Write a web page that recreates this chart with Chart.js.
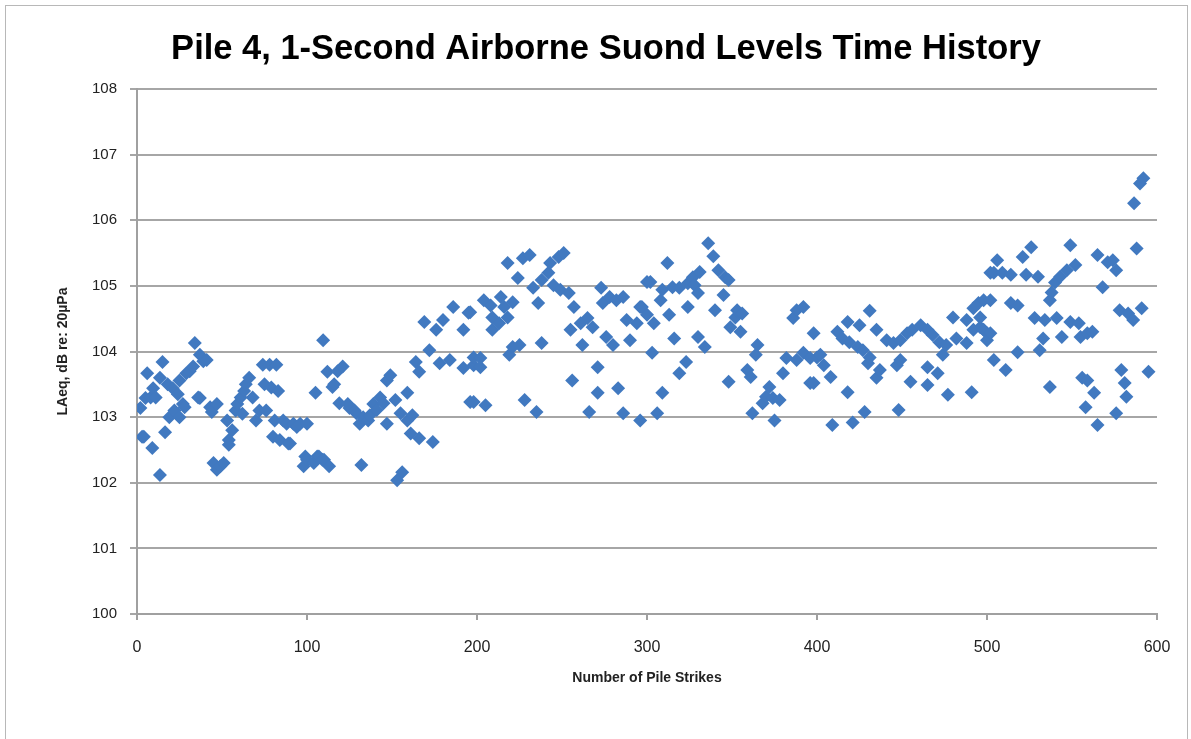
<!DOCTYPE html>
<html>
<head>
<meta charset="utf-8">
<script src="https://cdn.jsdelivr.net/npm/chart.js@4/dist/chart.umd.min.js"></script>
<style>
  html, body { margin: 0; padding: 0; background: #fff; }
  #wrap { position: relative; width: 1191px; height: 739px; }
  #frame { position: absolute; left: 5px; top: 5px; width: 1183px; height: 740px; border: 1px solid #b8b8b8; box-sizing: border-box; }
  #wrap canvas { position: absolute; left: 0; top: 0; }
</style>
</head>
<body>
<div id="wrap">
  <div id="frame"></div>
  <canvas id="pileChart" width="1191" height="739"></canvas>
</div>
<script>
// נתונים - מספר הקשה והרמה שנמדדה (dB)
const strikeNumbers = [
  2, 3, 4, 5, 6, 8, 9, 9.5, 11, 13.5, 13.5, 15, 16.5, 18, 19, 21, 22, 24, 25, 25, 27, 28, 29, 31, 33, 34, 36, 37, 37, 39, 41, 43, 44, 45, 47, 47, 49, 51, 53,
  54, 54, 56, 58, 59, 61, 62, 63, 64, 66, 68, 70, 72, 74, 75, 76, 78, 79, 80, 81, 82, 83, 84, 86, 88, 89, 90, 92, 94, 96, 98, 99, 100, 100,
  104, 105, 106, 107, 109, 109.5, 110, 112, 113, 115, 116, 118, 119, 121, 124, 125, 128, 129, 131, 132, 133, 136, 137, 139, 141, 143, 145, 147, 147, 149, 152, 153, 155, 156, 159, 159, 161, 162, 164, 166, 166, 169, 172, 174, 176, 178, 180, 184, 186, 192, 192, 195, 196, 196, 198,
  198, 198, 202, 202, 204, 205, 208, 209, 209, 213, 214, 216, 218, 218, 219, 221, 221, 224, 225, 227, 228, 231, 233, 235, 236, 238, 238, 242, 243, 245, 248, 249, 251, 254, 255, 256, 257, 261, 262, 265, 266, 268, 271, 271, 273, 274, 276, 278, 280, 282, 283, 286, 286, 288, 290, 294, 296, 296,
  297, 300, 300, 302, 303, 304, 306, 308, 309, 309, 312, 313, 315, 316, 319, 319, 323, 324, 324, 327, 328, 330, 330, 331, 334, 336, 339, 340, 342, 345, 346, 348, 348, 349, 352, 353, 355, 356, 359, 361, 362, 364, 365, 368, 370, 372, 374, 375, 378, 380, 382, 386, 388, 388, 392, 392, 396, 396, 398, 398,
  400, 402, 404, 408, 409, 412, 415, 418, 418, 419, 421, 424, 425, 427, 428, 430, 431, 431, 435, 435, 437, 441, 445, 447, 448, 449, 449, 453, 455, 456, 461, 465, 465, 465, 468, 471, 472, 474, 476, 477, 480, 482, 488, 488, 491, 492, 492, 495, 496, 496, 498, 498, 500, 500,
  502, 502, 502, 504, 504, 506, 509, 511, 514, 514, 518, 518, 521, 523, 526, 528, 530, 531, 533, 534, 537, 537, 538, 540, 541, 543, 544, 547, 549, 549, 552, 554, 555, 556, 558, 559, 559, 562, 563, 565, 565, 568, 571, 574, 576, 576, 578, 579, 581, 582, 583, 586, 586.5, 588, 590, 591, 592, 595
];
const levelsDb = [
  103.14, 102.7, 102.7, 103.29, 103.67, 103.3, 102.53, 103.44, 103.3, 103.6, 102.12, 103.84, 102.77, 103.5, 103.0, 103.44, 103.1, 103.35, 103.56, 103.0, 103.2, 103.15, 103.67, 103.7, 103.77, 104.13, 103.3, 103.29, 103.95, 103.85, 103.87, 103.15, 103.08, 102.3, 103.2, 102.2, 102.25, 102.3, 102.95,
  102.65, 102.58, 102.8, 103.1, 103.2, 103.3, 103.05, 103.4, 103.5, 103.6, 103.3, 102.95, 103.1, 103.8, 103.5, 103.1, 103.8, 103.45, 102.7, 102.95, 103.8, 103.4, 102.65, 102.95, 102.9, 102.6, 102.6, 102.9, 102.85, 102.9, 102.25, 102.4, 102.9, 102.35,
  102.3, 103.37, 102.4, 102.4, 102.35, 104.17, 102.35, 103.69, 102.25, 103.46, 103.5, 103.7, 103.21, 103.77, 103.2, 103.14, 103.1, 103.06, 102.9, 102.27, 103.0, 102.95, 103.03, 103.2, 103.11, 103.3, 103.21, 103.56, 102.9, 103.64, 103.26, 102.04, 103.06, 102.16, 103.37, 102.95, 102.75, 103.03, 103.84, 103.69, 102.68, 104.45, 104.02, 102.62, 104.33, 103.82, 104.48, 103.87, 104.68, 104.33, 103.75, 104.59, 103.23, 104.6, 103.79,
  103.91, 103.23, 103.9, 103.76, 104.78, 103.18, 104.7, 104.52, 104.33, 104.43, 104.83, 104.68, 105.35, 104.52, 103.95, 104.75, 104.07, 105.12, 104.1, 105.42, 103.26, 105.47, 104.97, 103.08, 104.74, 105.09, 104.13, 105.2, 105.35, 105.01, 105.44, 104.94, 105.5, 104.89, 104.33, 103.56, 104.68, 104.43, 104.1, 104.51, 103.08, 104.37, 103.76, 103.37, 104.97, 104.74, 104.22, 104.83, 104.1, 104.78, 103.44, 104.83, 103.06, 104.48, 104.17, 104.43, 104.68, 102.95,
  104.68, 105.06, 104.56, 105.06, 103.98, 104.43, 103.06, 104.78, 104.94, 103.37, 105.35, 104.56, 104.98, 104.2, 104.97, 103.67, 103.84, 105.04, 104.68, 105.13, 105.01, 104.89, 104.22, 105.21, 104.07, 105.65, 105.45, 104.63, 105.24, 104.86, 105.13, 105.09, 103.54, 104.37, 104.52, 104.63, 104.3, 104.58, 103.72, 103.61, 103.06, 103.95, 104.1, 103.21, 103.31, 103.46, 103.29, 102.95, 103.26, 103.67, 103.9, 104.51, 104.63, 103.87, 104.68, 103.98, 103.9, 103.52, 104.28, 103.52,
  103.91, 103.95, 103.79, 103.61, 102.88, 104.3, 104.2, 104.45, 103.38, 104.14, 102.92, 104.07, 104.4, 104.02, 103.08, 103.82, 104.62, 103.91, 104.33, 103.6, 103.72, 104.17, 104.13, 103.79, 103.11, 104.17, 103.87, 104.28, 103.54, 104.33, 104.4, 104.33, 103.49, 103.76, 104.25, 103.67, 104.14, 103.95, 104.1, 103.34, 104.52, 104.2, 104.48, 104.13, 103.38, 104.66, 104.33, 104.74, 104.37, 104.52, 104.78, 104.33, 104.28, 104.17,
  105.2, 104.78, 104.28, 105.2, 103.87, 105.39, 105.2, 103.72, 105.17, 104.74, 104.7, 103.99, 105.44, 105.17, 105.59, 104.51, 105.14, 104.02, 104.2, 104.48, 104.78, 103.46, 104.9, 105.05, 104.51, 105.14, 104.22, 105.24, 105.62, 104.45, 105.32, 104.43, 104.22, 103.6, 103.15, 104.28, 103.56, 104.3, 103.37, 105.47, 102.88, 104.98, 105.36, 105.39, 105.24, 103.06, 104.63, 103.72, 103.52, 103.31, 104.58, 104.48, 106.26, 105.57, 106.56, 104.66, 106.64, 103.69
];

// גבולות הצירים
const xTicks = [0, 100, 200, 300, 400, 500, 600];
const yTicks = [100, 101, 102, 103, 104, 105, 106, 107, 108];

const points = strikeNumbers.map((x, i) => ({ x: x, y: levelsDb[i] }));

const ctx = document.getElementById('pileChart').getContext('2d');
new Chart(ctx, {
  type: 'scatter',
  data: {
    datasets: [{
      data: points,
      pointStyle: 'rectRot',
      pointRadius: 7,
      pointHoverRadius: 7,
      backgroundColor: '#4179c0',
      borderColor: '#4179c0',
      borderWidth: 0
    }]
  },
  options: {
    responsive: false,
    animation: false,
    layout: { padding: { left: 55, right: 34, top: 0, bottom: 52 } },
    plugins: {
      legend: { display: false },
      tooltip: { enabled: false },
      title: {
        display: true,
        text: 'Pile 4, 1-Second Airborne Suond Levels Time History',
        color: '#000',
        font: { family: 'Liberation Sans', size: 34.5, weight: 'bold', lineHeight: 1.2 },
        padding: { top: 29, bottom: 18.6 }
      }
    },
    scales: {
      x: {
        type: 'linear',
        min: xTicks[0],
        max: xTicks[xTicks.length - 1],
        afterBuildTicks: s => { s.ticks = xTicks.map(v => ({ value: v })); },
        afterFit: s => { s.height = 73; },
        grid: { display: true, drawOnChartArea: false, drawTicks: true, tickLength: 6, color: '#a0a0a0', lineWidth: 2 },
        border: { display: true, color: '#a0a0a0', width: 2 },
        ticks: { color: '#222', font: { family: 'Liberation Sans', size: 16 }, padding: 18 },
        title: {
          display: true,
          text: 'Number of Pile Strikes',
          color: '#222',
          font: { family: 'Liberation Sans', size: 14, weight: 'bold' },
          padding: { top: 8, bottom: 0 }
        }
      },
      y: {
        type: 'linear',
        min: yTicks[0],
        max: yTicks[yTicks.length - 1],
        afterBuildTicks: s => { s.ticks = yTicks.map(v => ({ value: v })); },
        afterFit: s => { s.width = 137 - 55; },
        grid: { color: '#a6a6a6', lineWidth: 2, tickLength: 7 },
        border: { display: true, color: '#a0a0a0', width: 2 },
        ticks: { color: '#222', font: { family: 'Liberation Sans', size: 15 }, padding: 13 },
        title: {
          display: true,
          text: 'LAeq, dB re: 20µPa',
          color: '#222',
          font: { family: 'Liberation Sans', size: 14, weight: 'bold' },
          padding: { top: 0, bottom: 0 }
        }
      }
    }
  }
});
</script>
</body>
</html>
